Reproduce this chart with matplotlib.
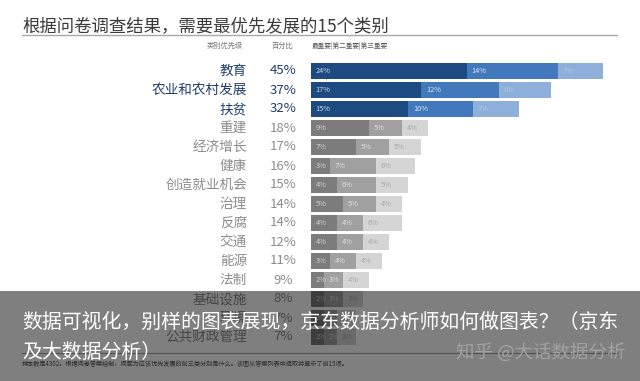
import matplotlib.pyplot as plt
from matplotlib import transforms
from matplotlib.patches import Rectangle

plt.rcParams['font.family'] = ['Noto Sans CJK SC', 'DejaVu Sans']

# Data
categories = ['教育', '农业和农村发展', '扶贫', '重建', '经济增长', '健康', '创造就业机会',
              '治理', '反腐', '交通', '能源', '法制', '基础设施', '环境', '公共财政管理']
totals = [45, 37, 32, 18, 17, 16, 15, 14, 14, 12, 11, 9, 8, 7, 7]
first = [24, 17, 15, 9, 7, 3, 4, 5, 4, 4, 3, 2, 2, 2, 2]
second = [14, 12, 10, 5, 5, 7, 6, 5, 4, 4, 4, 3, 3, 2, 2]
third = [7, 8, 7, 4, 5, 6, 5, 4, 6, 4, 4, 4, 3, 3, 3]
n_top = 3  # first rows highlighted in blue

W, H = 640, 381
fig = plt.figure(figsize=(W / 100, H / 100), dpi=100)

def fx(px):
    return px / W

def fy(py):
    return 1 - py / H

# Bar axes: 6.49 px per percent, rows 19 px apart
x0 = 311
px_per = 6.49
xmax = 50
row_top = 61.5
row_bot = 346.5
ax = fig.add_axes([fx(x0), fy(row_bot), fx(xmax * px_per), (row_bot - row_top) / H])
ax.set_xlim(0, xmax)
ax.set_ylim(len(categories) - 0.5, -0.5)
ax.axis('off')

blues = ['#1e4a82', '#4279bd', '#8eafd9']
blue_txt = ['#c9d9ee', '#d8e4f3', '#b3c9e6']
grays = ['#7c7c7c', '#a0a0a0', '#d5d5d5']
gray_txt = ['#cfcfcf', '#dedede', '#a8a8a8']

ys = list(range(len(categories)))
segs = [first, second, third]
left = [0] * len(categories)
for k, seg in enumerate(segs):
    cols = [blues[k] if i < n_top else grays[k] for i in ys]
    ax.barh(ys, seg, left=left, height=0.8, color=cols, edgecolor='none')
    for i in ys:
        tc = blue_txt[k] if i < n_top else gray_txt[k]
        ax.text(left[i] + 0.7, i, f'{seg[i]}%', ha='left', va='center',
                fontsize=5.3, color=tc)
    left = [a + b for a, b in zip(left, seg)]

# Row labels and percentages
tr = transforms.blended_transform_factory(fig.transFigure, ax.transData)
for i, (name, tot) in enumerate(zip(categories, totals)):
    c = '#1f3d6b' if i < n_top else '#8c8c8c'
    ax.text(fx(247), i, name, transform=tr, ha='right', va='center',
            fontsize=9.8, color=c, clip_on=False)
    ax.text(fx(283), i, f'{tot}%', transform=tr, ha='center', va='center',
            fontsize=9.5, color=c, clip_on=False)

# Title and header
fig.text(fx(22), fy(26), '根据问卷调查结果，需要最优先发展的15个类别', ha='left', va='center',
         fontsize=12.5, color='#3a3a3a')
fig.add_artist(plt.Line2D([fx(22), fx(617)], [fy(35), fy(35)], color='#a8a8a8', lw=1))
fig.text(fx(225), fy(46), '类别优先级', ha='center', va='center', fontsize=5.2, color='#777777')
fig.text(fx(282), fy(46), '百分比', ha='center', va='center', fontsize=5.2, color='#777777')
fig.text(fx(312), fy(46), '最重要|第二重要|第三重要', ha='left', va='center', fontsize=4.8,
         color='#555555')

# Footnote
fig.add_artist(plt.Line2D([fx(22), fx(617)], [fy(353), fy(353)], color='#a8a8a8', lw=0.8))
fig.text(fx(22), fy(364), '样本数是4302。根据问卷答案绘制，问题为应该优先发展的前三类分别是什么。该图从答案列表中提取并显示了前15项。',
         ha='left', va='center', fontsize=4.4, color='#555555')

# Dark caption band
fig.add_artist(Rectangle((0, 0), 1, fy(291), transform=fig.transFigure,
                         facecolor='black', alpha=0.5, edgecolor='none', zorder=10))
fig.text(fx(22), fy(322), '数据可视化，别样的图表展现，京东数据分析师如何做图表？（京东',
         ha='left', va='center', fontsize=14.3, color='white', zorder=11)
fig.text(fx(22), fy(352), '及大数据分析）', ha='left', va='center', fontsize=14.3,
         color='white', zorder=11)
fig.text(fx(625), fy(352), '知乎 @大话数据分析', ha='right', va='center', fontsize=13.3,
         color='#a6a6a6', alpha=0.9, zorder=11)

fig.savefig('out.png', dpi=100, facecolor='white')
